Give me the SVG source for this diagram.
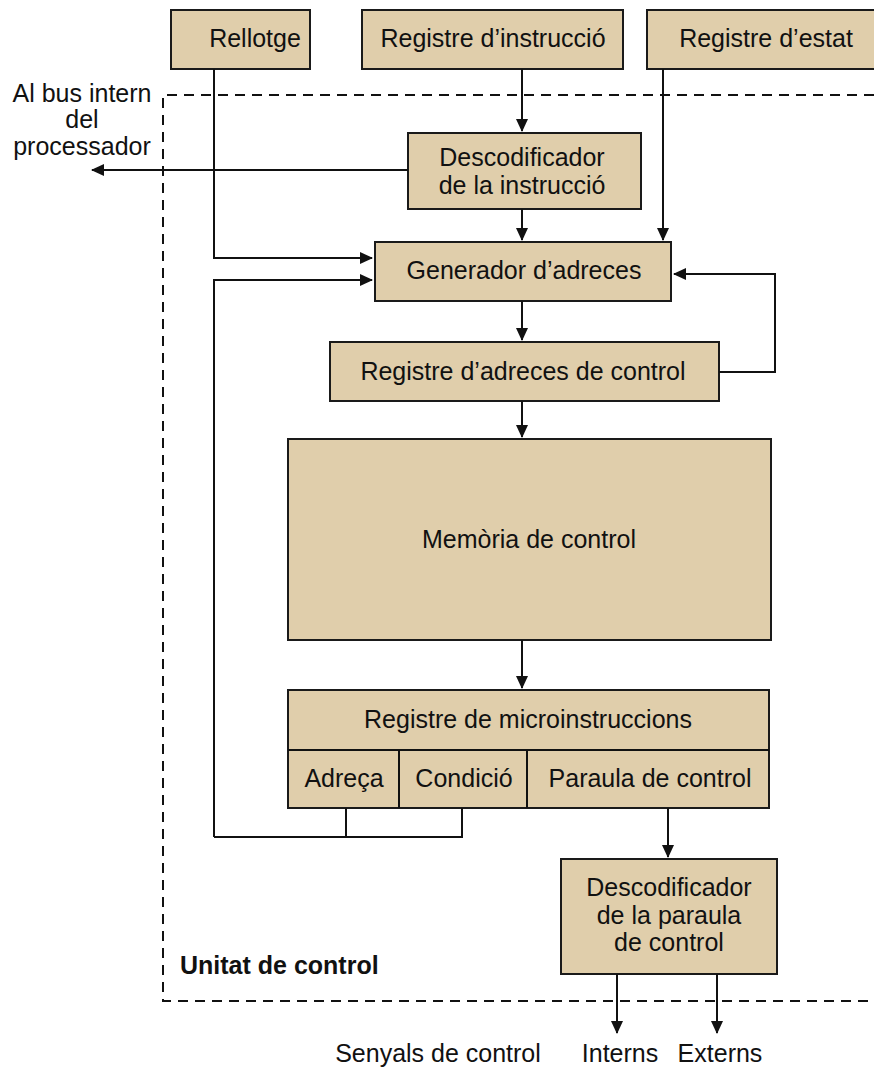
<svg xmlns="http://www.w3.org/2000/svg" width="874" height="1068" viewBox="0 0 874 1068">
<defs>
<marker id="ah" markerWidth="14" markerHeight="14" refX="12" refY="7" orient="auto" markerUnits="userSpaceOnUse">
<path d="M0,1 L13,7 L0,13 Z" fill="#111"/>
</marker>
<style>
.box{fill:#e0ceab;stroke:#1a1a1a;stroke-width:2}
.t{font-family:"Liberation Sans",Arial,sans-serif;font-size:25px;fill:#111;text-anchor:middle}
.c{fill:none;stroke:#111;stroke-width:2}
.a{fill:none;stroke:#111;stroke-width:2;marker-end:url(#ah)}
.dash{fill:none;stroke:#111;stroke-width:2;stroke-dasharray:10 7}
</style>
</defs>
<rect width="874" height="1068" fill="#fff"/>
<path class="dash" d="M874,95 H163 V1001 H874"/>
<g id="rellotge"><rect class="box" x="171" y="10" width="139" height="59"/><text class="t" x="255" y="47">Rellotge</text></g>
<g id="reg-instr"><rect class="box" x="362" y="10" width="261" height="59"/><text class="t" x="493" y="47">Registre d’instrucció</text></g>
<g id="reg-estat"><rect class="box" x="647" y="10" width="231" height="59"/><text class="t" x="766" y="47">Registre d’estat</text></g>
<g id="desc-instr"><rect class="box" x="408" y="133" width="233" height="76"/><text class="t" x="522" y="166">Descodificador</text><text class="t" x="522" y="194">de la instrucció</text></g>
<g id="generador"><rect class="box" x="375" y="242" width="296" height="59"/><text class="t" x="524" y="279">Generador d’adreces</text></g>
<g id="reg-adreces"><rect class="box" x="330" y="342" width="389" height="59"/><text class="t" x="523" y="380">Registre d’adreces de control</text></g>
<g id="memoria"><rect class="box" x="288" y="439" width="483" height="201"/><text class="t" x="529" y="548">Memòria de control</text></g>
<g id="reg-micro"><rect class="box" x="288" y="690" width="481" height="118"/><line class="c" x1="288" y1="750" x2="769" y2="750"/><line class="c" x1="399" y1="750" x2="399" y2="808"/><line class="c" x1="527" y1="750" x2="527" y2="808"/><text class="t" x="528" y="728">Registre de microinstruccions</text><text class="t" x="344" y="787">Adreça</text><text class="t" x="464" y="787">Condició</text><text class="t" x="650" y="787">Paraula de control</text></g>
<g id="desc-paraula"><rect class="box" x="561" y="859" width="216" height="115"/><text class="t" x="669" y="896">Descodificador</text><text class="t" x="669" y="924">de la paraula</text><text class="t" x="669" y="951">de control</text></g>
<g id="connectors">
<path class="a" d="M214,69 V258 H372"/>
<path class="a" d="M214,837 V280 H372"/>
<path class="c" d="M346,808 V837 H214"/>
<path class="c" d="M462,808 V837 H346"/>
<path class="a" d="M522,69 V131"/>
<path class="a" d="M522,209 V240"/>
<path class="a" d="M408,170 H92"/>
<path class="a" d="M663,69 V240"/>
<path class="a" d="M522,301 V340"/>
<path class="a" d="M719,372 H775 V274 H674"/>
<path class="a" d="M522,401 V437"/>
<path class="a" d="M522,640 V688"/>
<path class="a" d="M668,808 V857"/>
<path class="a" d="M617,974 V1033"/>
<path class="a" d="M717,974 V1033"/>
</g>
<g id="labels">
<text class="t" x="82" y="102">Al bus intern</text>
<text class="t" x="82" y="128">del</text>
<text class="t" x="82" y="155">processador</text>
<text class="t" x="180" y="974" style="text-anchor:start;font-weight:bold;font-size:25px">Unitat de control</text>
<text class="t" x="438" y="1062">Senyals de control</text>
<text class="t" x="620" y="1062">Interns</text>
<text class="t" x="720" y="1062">Externs</text>
</g>
</svg>
